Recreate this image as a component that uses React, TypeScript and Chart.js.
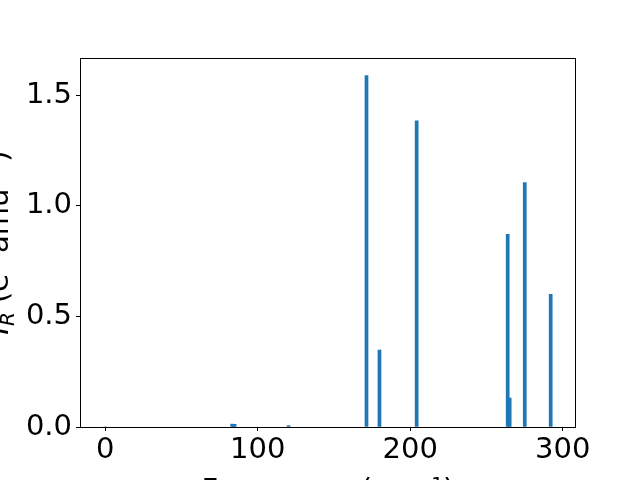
import React, { useEffect, useRef } from "react";
import { Chart, registerables } from "chart.js";

Chart.register(...registerables);

// Vibrational frequencies (cm^-1) and IR intensities (e^2 amu^-1)
const frequencies = [0, 83.2, 84.8, 120.2, 171.3, 179.8, 204.2, 263.9, 265.2, 275.1, 292.1];
const intensities = [0, 0.013, 0.012, 0.006, 1.589, 0.348, 1.385, 0.872, 0.131, 1.105, 0.6];

const xTicks = [0, 100, 200, 300];
const yTicks = [0, 0.5, 1.0, 1.5];
const xRange = [-16.6, 308.7];
const yRange = [0, 1.669];
const barWidthUnits = 2;

const FONT = "DejaVu Sans";
const FONT_SIZE = 29;
const BLUE = "#1f77b4";

const framePlugin = {
  id: "mplFrame",
  afterDraw(chart: any) {
    const { ctx, chartArea } = chart;
    const { left, right, top, bottom } = chartArea;
    ctx.save();
    ctx.strokeStyle = "#000";
    ctx.lineWidth = 1;
    ctx.strokeRect(Math.round(left) + 0.5, Math.round(top) + 0.5, Math.round(right - left) - 1, Math.round(bottom - top));

    // x-axis title
    ctx.fillStyle = "#000";
    ctx.textBaseline = "alphabetic";
    ctx.textAlign = "center";
    ctx.font = `${FONT_SIZE}px "${FONT}"`;
    const cx = (left + right) / 2;
    ctx.fillText("Frequency (cm\u207B\u00B9)", cx, 499);

    // y-axis title (rotated), drawn as segments for the subscript
    const cy = (top + bottom) / 2;
    ctx.translate(8, cy);
    ctx.rotate(-Math.PI / 2);
    const segs = [
      { t: "I", font: `italic ${FONT_SIZE}px "${FONT}"`, dy: 0 },
      { t: "R", font: `italic ${Math.round(FONT_SIZE * 0.7)}px "${FONT}"`, dy: 6 },
      { t: " (e\u00B2 amu\u207B\u00B9)", font: `${FONT_SIZE}px "${FONT}"`, dy: 0 },
    ];
    let total = 0;
    for (const s of segs) {
      ctx.font = s.font;
      total += ctx.measureText(s.t).width;
    }
    let x = -total / 2;
    ctx.textAlign = "left";
    for (const s of segs) {
      ctx.font = s.font;
      ctx.fillText(s.t, x, s.dy);
      x += ctx.measureText(s.t).width;
    }
    ctx.restore();
  },
};

export default function App() {
  const ref = useRef<HTMLCanvasElement | null>(null);

  useEffect(() => {
    if (!ref.current) return;
    const plotWidth = 640 - 80 - 64;
    const barPx = (plotWidth / (xRange[1] - xRange[0])) * barWidthUnits;
    const chart = new Chart(ref.current, {
      type: "bar",
      data: {
        datasets: [
          {
            data: frequencies.map((f, i) => ({ x: f, y: intensities[i] })),
            backgroundColor: BLUE,
            borderWidth: 0,
            barThickness: barPx,
            grouped: false,
          } as any,
        ],
      },
      options: {
        responsive: false,
        animation: false,
        devicePixelRatio: 1,
        layout: { padding: { left: 0, right: 64, top: 58, bottom: 0 } },
        plugins: { legend: { display: false }, tooltip: { enabled: false } },
        scales: {
          x: {
            type: "linear",
            min: xRange[0],
            max: xRange[1],
            offset: false,
            afterBuildTicks: (scale: any) => {
              scale.ticks = xTicks.map((v) => ({ value: v }));
            },
            afterFit: (scale: any) => {
              scale.height = 53;
            },
            grid: {
              display: true,
              offset: false,
              drawOnChartArea: false,
              drawTicks: true,
              tickLength: 4,
              tickColor: "#000",
              tickWidth: 1,
            },
            border: { display: false },
            ticks: {
              color: "#000",
              font: { family: FONT, size: FONT_SIZE },
              padding: 2,
              maxRotation: 0,
              autoSkip: false,
              callback: (v: any) => String(v),
            },
          },
          y: {
            type: "linear",
            min: yRange[0],
            max: yRange[1],
            afterBuildTicks: (scale: any) => {
              scale.ticks = yTicks.map((v) => ({ value: v }));
            },
            afterFit: (scale: any) => {
              scale.width = 80;
            },
            grid: {
              display: true,
              drawOnChartArea: false,
              drawTicks: true,
              tickLength: 4,
              tickColor: "#000",
              tickWidth: 1,
            },
            border: { display: false },
            ticks: {
              color: "#000",
              font: { family: FONT, size: FONT_SIZE },
              padding: 4,
              autoSkip: false,
              callback: (v: any) => Number(v).toFixed(1),
            },
          },
        },
      },
      plugins: [framePlugin],
    });
    return () => chart.destroy();
  }, []);

  return (
    <div style={{ position: "fixed", left: 0, top: 0, width: 640, height: 480, background: "#fff" }}>
      <canvas ref={ref} width={640} height={480} style={{ width: 640, height: 480 }} />
    </div>
  );
}
